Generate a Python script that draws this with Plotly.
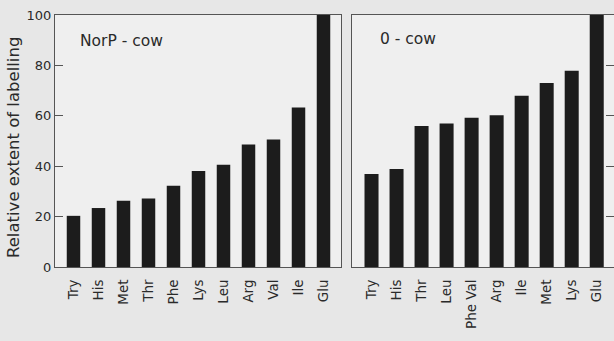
import plotly.graph_objects as go

# Data
left_cats = ["Try", "His", "Met", "Thr", "Phe", "Lys", "Leu", "Arg", "Val", "Ile", "Glu"]
left_vals = [20.3, 23.4, 26.3, 27.2, 32.2, 38.1, 40.6, 48.6, 50.6, 63.3, 100]
right_cats = ["Try", "His", "Thr", "Leu", "Phe Val", "Arg", "Ile", "Met", "Lys", "Glu"]
right_vals = [36.9, 38.9, 56.0, 56.9, 59.2, 60.2, 68.0, 73.0, 77.9, 100]
y_ticks = [0, 20, 40, 60, 80, 100]

FONT = "DejaVu Sans"
LINE = "#555555"
BAR = "#1c1c1c"
TXT = "#2a2a2a"

fig = go.Figure()
fig.add_trace(go.Bar(x=left_cats, y=left_vals, marker_color=BAR, marker_line_width=0,
                     width=0.54, xaxis="x", yaxis="y", showlegend=False))
fig.add_trace(go.Bar(x=right_cats, y=right_vals, marker_color=BAR, marker_line_width=0,
                     width=0.56, xaxis="x2", yaxis="y2", showlegend=False))

W, H = 614, 341
ml, mr, mt, mb = 55, 0, 15, 74
pw = W - ml - mr

common_x = dict(type="category", showline=True, linecolor=LINE, linewidth=1.2, mirror=True,
                ticks="", tickangle=-90, ticklabelstandoff=6,
                tickfont=dict(family=FONT, size=13.5, color=TXT),
                showgrid=False, zeroline=False)
common_y = dict(range=[0, 100], tickvals=y_ticks, showline=True, linecolor=LINE, linewidth=1.2,
                mirror=True, ticks="inside", ticklen=8, tickcolor=LINE, tickwidth=1.2,
                showgrid=False, zeroline=False, fixedrange=True)

fig.update_layout(
    width=W, height=H,
    margin=dict(l=ml, r=mr, t=mt, b=mb),
    paper_bgcolor="#e7e7e7",
    plot_bgcolor="#efefef",
    xaxis=dict(common_x, domain=[0, (341 - ml) / pw], range=[-0.74, 10.7]),
    xaxis2=dict(common_x, domain=[(352 - ml) / pw, 1], range=[-0.78, 9.69], anchor="y2"),
    yaxis=dict(common_y, anchor="x", tickfont=dict(family=FONT, size=13, color=TXT)),
    yaxis2=dict(common_y, anchor="x2", side="right", showticklabels=False),
    annotations=[
        dict(text="Relative extent of labelling", textangle=-90, xref="paper", yref="paper",
             x=(13 - ml) / pw, y=(267 - 148) / 252, xanchor="center", yanchor="middle",
             showarrow=False, font=dict(family=FONT, size=16.5, color=TXT)),
        dict(text="NorP - cow", xref="paper", yref="paper", x=(78 - ml) / pw, y=(267 - 41) / 252,
             xanchor="left", yanchor="middle", showarrow=False,
             font=dict(family=FONT, size=15.5, color=TXT)),
        dict(text="0 - cow", xref="paper", yref="paper", x=(378 - ml) / pw, y=(267 - 39) / 252,
             xanchor="left", yanchor="middle", showarrow=False,
             font=dict(family=FONT, size=15.5, color=TXT)),
    ],
)

fig.write_html("out.html")
